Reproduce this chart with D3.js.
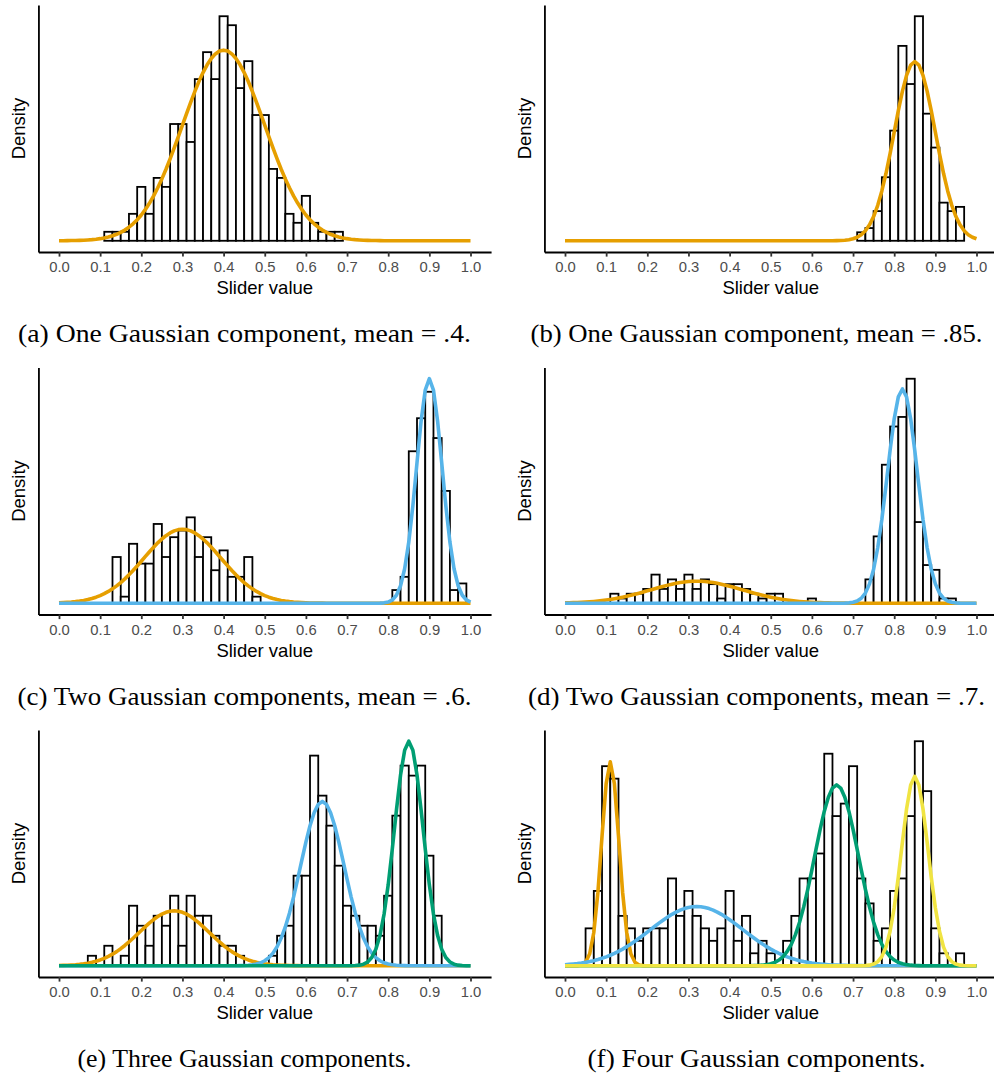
<!DOCTYPE html>
<html>
<head>
<meta charset="utf-8">
<script src="https://cdn.jsdelivr.net/npm/d3@7"></script>
<style>
  body { margin: 0; background: #fff; }
  .tick text { font-family: "Liberation Sans", Arial, sans-serif; }
</style>
</head>
<body>
<div id="chart"></div>
<script>
// histogram bins are 0.02 wide, centred on multiples of 0.02
const binWidth = 0.02;

// (a) one component, mean .4
const startA = 0.12;
const countsA = [1,1,1,3,6,3,7,6,13,13,11,18,21,18,25,24,17,20,14,14,8,7,3,2,5,2,1,1,1];
const compsA = [{ mean: 0.40, sd: 0.10, w: 1 }];

// (b) one component, mean .85
const startB = 0.72;
const countsB = [2,3,7,15,26,46,37,53,30,22,9,7,8,0];
const compsB = [{ mean: 0.85, sd: 0.05, w: 1 }];

// (c) two components, mean .6
const startC = 0.14;
const countsC = [7,1,9,6,6,12,7,10,11,13,7,10,5,8,4,4,7,1,0,
                 0,0,0,0,0,0,0,0,0,0,0,0,0,0,0,
                 2,4,23,28,32,25,17,2,3];
const compsC = [{ mean: 0.30, sd: 0.094, w: 0.5 }, { mean: 0.90, sd: 0.031, w: 0.5 }];

// (d) two components, mean .7
const startD = 0.12;
const countsD = [2,1,2,2,3,6,3,5,3,6,3,5,4,1,4,4,3,2,1,2,2,0,0,0,1,
                 0,0,0,0,0,0,
                 5,14,29,37,39,47,17,8,7,1,1];
const compsD = [{ mean: 0.32, sd: 0.112, w: 0.24 }, { mean: 0.82, sd: 0.0365, w: 0.76 }];

// (e) three components
const startE = 0.08;
const countsE = [1,0,2,0,1,6,4,2,5,4,7,2,7,5,5,3,2,2,1,0,0,0,
                 1,3,4,9,9,21,17,14,10,6,5,4,4,3,
                 7,15,20,19,20,11,5];
const compsE = [{ mean: 0.28, sd: 0.085, w: 0.22 }, { mean: 0.64, sd: 0.053, w: 0.41 },
                { mean: 0.85, sd: 0.035, w: 0.37 }];

// (f) four components
const startF = 0.06;
const countsF = [3,6,16,15,4,
                 3,2,3,3,3,7,4,6,4,3,2,3,6,2,4,1,2,1,0,
                 2,4,7,7,9,17,12,13,16,7,5,2,3,
                 6,7,12,18,14,3,1,0,1];
const compsF = [{ mean: 0.11, sd: 0.021, w: 0.16 }, { mean: 0.32, sd: 0.113, w: 0.25 },
                { mean: 0.66, sd: 0.0533, w: 0.36 }, { mean: 0.85, sd: 0.0325, w: 0.23 }];

const compColors = ["#E69F00", "#56B4E9", "#009E73", "#F0E442"];
const tickValues = [0, 0.1, 0.2, 0.3, 0.4, 0.5, 0.6, 0.7, 0.8, 0.9, 1.0];
const tickLabels = ["0.0","0.1","0.2","0.3","0.4","0.5","0.6","0.7","0.8","0.9","1.0"];
const captions = [
  "(a) One Gaussian component, mean = .4.",
  "(b) One Gaussian component, mean = .85.",
  "(c) Two Gaussian components, mean = .6.",
  "(d) Two Gaussian components, mean = .7.",
  "(e) Three Gaussian components.",
  "(f) Four Gaussian components."
];
// caption widths as set in the figure
const captionWidths = [453, 452, 454, 457, 334, 338];

const panels = [
  { start: startA, counts: countsA, comps: compsA },
  { start: startB, counts: countsB, comps: compsB },
  { start: startC, counts: countsC, comps: compsC },
  { start: startD, counts: countsD, comps: compsD },
  { start: startE, counts: countsE, comps: compsE },
  { start: startF, counts: countsF, comps: compsF }
];

// layout
const width = 994, height = 1078;
const cols = [{ x0: 59, x1: 470.5, cap: 244.5 }, { x0: 565, x1: 976.5, cap: 756.5 }];
const rowTops = [5, 367.5, 730];
const plotH = 247;

const svg = d3.select("#chart").append("svg")
  .attr("width", width)
  .attr("height", height)
  .style("background", "#fff");

const normal = (x, m, s) => Math.exp(-0.5 * ((x - m) / s) ** 2) / (s * Math.sqrt(2 * Math.PI));
const grid = d3.range(101).map(k => k / 100);

panels.forEach((p, i) => {
  const col = cols[i % 2];
  const top = rowTops[Math.floor(i / 2)];
  const bottom = top + plotH;
  const span = col.x1 - col.x0;

  // x: data range 0..1 expanded by 5% each side
  const x = d3.scaleLinear()
    .domain([-0.05, 1.05])
    .range([col.x0 - 0.05 * span, col.x1 + 0.05 * span]);

  const n = d3.sum(p.counts);
  const bins = p.counts.map((c, k) => {
    const mid = p.start + k * binWidth;
    return { x0: mid - binWidth / 2, x1: mid + binWidth / 2, dens: c / (n * binWidth) };
  });
  const curves = p.comps.map(c => grid.map(g => [g, c.w * normal(g, c.mean, c.sd)]));

  const ymax = Math.max(d3.max(bins, b => b.dens), d3.max(curves.flat(), d => d[1]));
  const y = d3.scaleLinear()
    .domain([-0.05 * ymax, 1.05 * ymax])
    .range([bottom, top]);

  const g = svg.append("g");

  // histogram
  g.selectAll("rect")
    .data(bins)
    .join("rect")
    .attr("x", d => x(d.x0))
    .attr("width", d => x(d.x1) - x(d.x0))
    .attr("y", d => y(d.dens))
    .attr("height", d => y(0) - y(d.dens))
    .attr("fill", "#fff")
    .attr("stroke", "#000")
    .attr("stroke-width", 1.8);

  // fitted gaussian components
  const line = d3.line().x(d => x(d[0])).y(d => y(d[1]));
  g.selectAll("path.curve")
    .data(curves)
    .join("path")
    .attr("class", "curve")
    .attr("d", line)
    .attr("fill", "none")
    .attr("stroke", (d, k) => compColors[k])
    .attr("stroke-width", 3.6)
    .attr("stroke-linejoin", "round")
    .attr("stroke-linecap", "butt");

  // x axis
  const xAxis = g.append("g")
    .attr("transform", `translate(0,${bottom})`)
    .call(d3.axisBottom(x)
      .tickValues(tickValues)
      .tickFormat((d, k) => tickLabels[k])
      .tickSize(4.6)
      .tickSizeOuter(0)
      .tickPadding(5));
  xAxis.select(".domain").attr("stroke", "#000").attr("stroke-width", 1.8);
  xAxis.selectAll(".tick line").attr("stroke", "#333").attr("stroke-width", 1.8);
  xAxis.selectAll(".tick text").attr("fill", "#4d4d4d").attr("font-size", 14.8);

  // y axis: line only
  const yAxis = g.append("g")
    .attr("transform", `translate(${x(-0.05)},0)`)
    .call(d3.axisLeft(y).tickValues([]).tickSizeOuter(0));
  yAxis.select(".domain").attr("stroke", "#000").attr("stroke-width", 1.8);

  // axis titles
  g.append("text")
    .attr("x", x(0.5))
    .attr("y", bottom + 42)
    .attr("text-anchor", "middle")
    .attr("font-family", "Liberation Sans, Arial, sans-serif")
    .attr("font-size", 18.5)
    .text("Slider value");

  g.append("text")
    .attr("transform", `translate(${x(-0.05) - 13},${(top + bottom) / 2}) rotate(-90)`)
    .attr("text-anchor", "middle")
    .attr("font-family", "Liberation Sans, Arial, sans-serif")
    .attr("font-size", 18.5)
    .text("Density");

  // caption
  svg.append("text")
    .attr("x", col.cap)
    .attr("y", bottom + 90)
    .attr("text-anchor", "middle")
    .attr("font-family", "Liberation Serif, Times New Roman, serif")
    .attr("font-size", 26)
    .attr("textLength", captionWidths[i])
    .attr("lengthAdjust", "spacingAndGlyphs")
    .text(captions[i]);
});
</script>
</body>
</html>
